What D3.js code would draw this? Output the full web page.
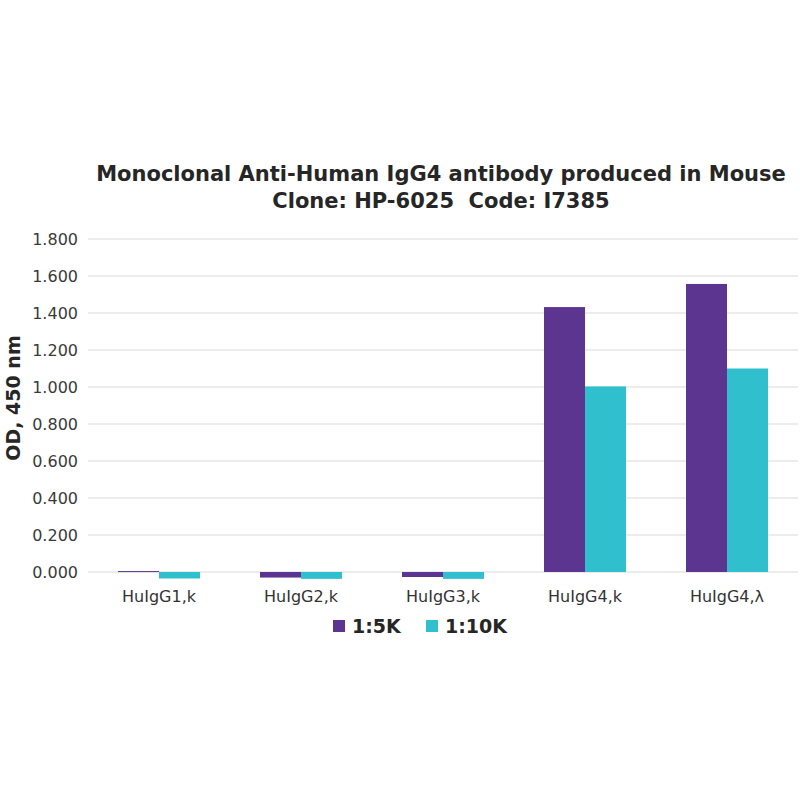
<!DOCTYPE html>
<html>
<head>
<meta charset="utf-8">
<script src="https://cdn.jsdelivr.net/npm/d3@7"></script>
<style>
  body { margin: 0; background: #fff; }
  text { font-family: "DejaVu Sans", Verdana, sans-serif; white-space: pre; }
</style>
</head>
<body>
<svg id="chart" width="800" height="800"></svg>
<script>
// chart values
const categories = ['HuIgG1,k', 'HuIgG2,k', 'HuIgG3,k', 'HuIgG4,k', 'HuIgG4,\u03bb'];
const seriesNames = ['1:5K', '1:10K'];
const dil5K = [0.005, -0.03, -0.027, 1.432, 1.557];
const dil10K = [-0.035, -0.037, -0.037, 1.003, 1.10];
const yTicks = [0, 0.2, 0.4, 0.6, 0.8, 1.0, 1.2, 1.4, 1.6, 1.8];
const titleLines = ['Monoclonal Anti-Human IgG4 antibody produced in Mouse', 'Clone: HP-6025  Code: I7385'];

const colors = ['#5b3590', '#2fbfcd'];
const svg = d3.select('#chart');

const plotLeft = 88, plotRight = 798, plotTop = 239, plotBottom = 572;

const x = d3.scaleBand().domain(categories).range([plotLeft, plotRight]).paddingInner(0).paddingOuter(0);
const xSeries = d3.scaleBand().domain(seriesNames).range([0, 82]);
const y = d3.scaleLinear().domain([0, 1.8]).range([plotBottom, plotTop]);

// gridlines
svg.append('g')
  .selectAll('line')
  .data(yTicks)
  .enter()
  .append('line')
  .attr('x1', plotLeft)
  .attr('x2', plotRight)
  .attr('y1', (d) => y(d))
  .attr('y2', (d) => y(d))
  .attr('stroke', '#d9d9d9')
  .attr('stroke-width', 1);

// y axis labels
const yAxis = svg.append('g')
  .attr('transform', `translate(${plotLeft - 7},0)`)
  .call(d3.axisLeft(y).tickValues(yTicks).tickFormat(d3.format('.3f')).tickSize(0));
yAxis.select('.domain').remove();
yAxis.selectAll('text')
  .attr('font-size', 16)
  .attr('fill', '#3a3a3a')
  .attr('font-family', '"DejaVu Sans", Verdana, sans-serif');

// bars
const rows = categories.map((c, i) => ({ cat: c, vals: [dil5K[i], dil10K[i]] }));
const groups = svg.append('g')
  .selectAll('g')
  .data(rows)
  .enter()
  .append('g')
  .attr('transform', (d) => `translate(${x(d.cat) + x.bandwidth() / 2 - 41},0)`);

groups.selectAll('rect')
  .data((d) => d.vals.map((v, j) => ({ v: v, s: seriesNames[j], j: j })))
  .enter()
  .append('rect')
  .attr('x', (d) => xSeries(d.s))
  .attr('width', xSeries.bandwidth())
  .attr('y', (d) => y(Math.max(0, d.v)))
  .attr('height', (d) => Math.max(1, Math.abs(y(d.v) - y(0))))
  .attr('fill', (d) => colors[d.j]);

// x axis labels
const xAxis = svg.append('g')
  .attr('transform', `translate(0,${plotBottom + 16})`)
  .call(d3.axisBottom(x).tickSize(0));
xAxis.select('.domain').remove();
xAxis.selectAll('text')
  .attr('font-size', 16)
  .attr('fill', '#333')
  .attr('font-family', '"DejaVu Sans", Verdana, sans-serif');

// title
svg.append('text')
  .attr('x', 441)
  .attr('y', 181)
  .attr('text-anchor', 'middle')
  .attr('font-size', 21)
  .attr('font-weight', 'bold')
  .attr('fill', '#262626')
  .selectAll('tspan')
  .data(titleLines)
  .enter()
  .append('tspan')
  .attr('x', 441)
  .attr('dy', (d, i) => (i === 0 ? 0 : 27))
  .text((d) => d);

// y axis title
svg.append('text')
  .attr('transform', 'translate(20,398) rotate(-90)')
  .attr('text-anchor', 'middle')
  .attr('font-size', 19)
  .attr('font-weight', 'bold')
  .attr('fill', '#262626')
  .text('OD, 450 nm');

// legend
const legendX = [333, 426];
const legend = svg.append('g')
  .selectAll('g')
  .data(seriesNames)
  .enter()
  .append('g')
  .attr('transform', (d, i) => `translate(${legendX[i]},626)`);
legend.append('rect')
  .attr('x', 0)
  .attr('y', -6)
  .attr('width', 12)
  .attr('height', 12)
  .attr('fill', (d, i) => colors[i]);
legend.append('text')
  .attr('x', 19)
  .attr('y', 7)
  .attr('font-size', 19)
  .attr('font-weight', 'bold')
  .attr('fill', '#262626')
  .text((d) => d);
</script>
</body>
</html>
